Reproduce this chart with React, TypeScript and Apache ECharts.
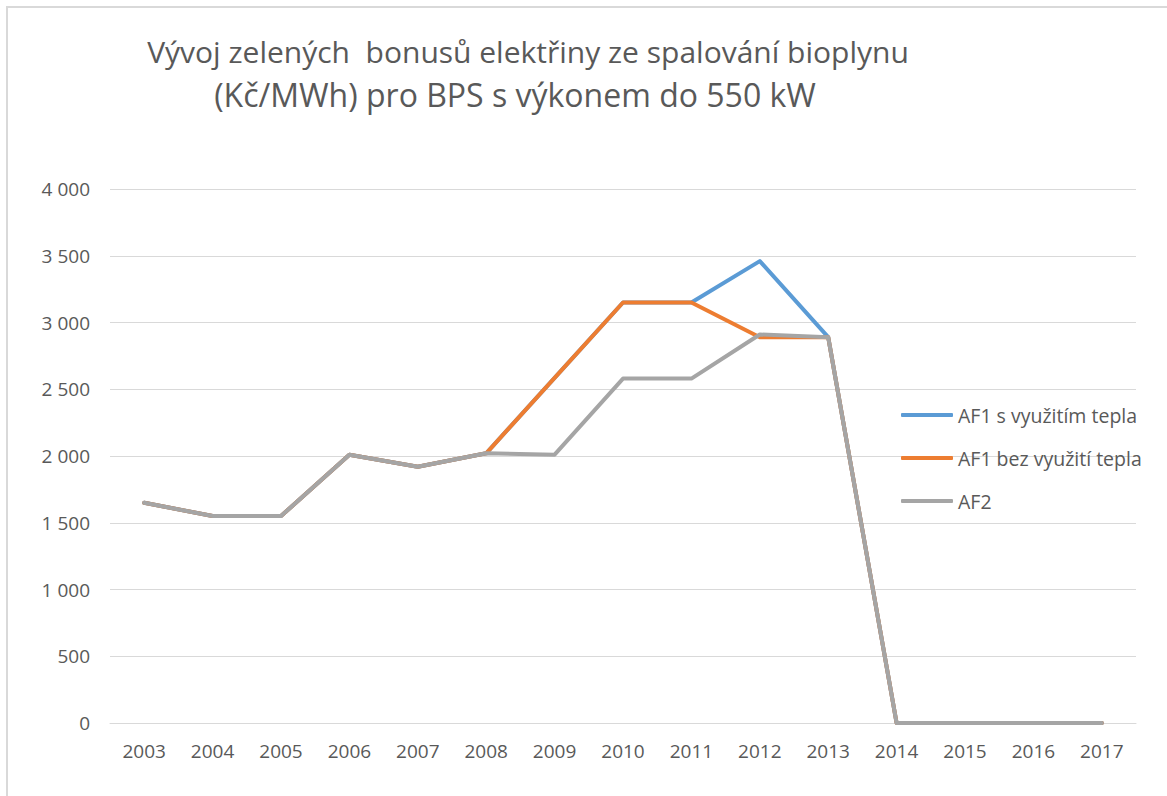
import React, { useEffect, useRef } from "react";
import * as echarts from "echarts";

const years = ["2003","2004","2005","2006","2007","2008","2009","2010","2011","2012","2013","2014","2015","2016","2017"];
const af1WithHeat = [1650,1550,1550,2010,1920,2020,2585,3150,3150,3460,2890,0,0,0,0];
const af1NoHeat = [1650,1550,1550,2010,1920,2020,2585,3150,3150,2890,2890,0,0,0,0];
const af2 = [1650,1550,1550,2010,1920,2020,2010,2580,2580,2910,2890,0,0,0,0];
const seriesNames = ["AF1 s využitím tepla","AF1 bez využití tepla","AF2"];
const titleLines = ["Vývoj zelených  bonusů elektřiny ze spalování bioplynu","(Kč/MWh) pro BPS s výkonem do 550 kW"];

const FONT = "'Open Sans', sans-serif";
const TXT = "#595959";

function fmt(v: number) {
  if (v >= 1000) return `${Math.floor(v / 1000)} ${String(v % 1000).padStart(3, "0")}`;
  return String(v);
}

export default function App() {
  const ref = useRef<HTMLDivElement>(null);
  useEffect(() => {
    const chart = echarts.init(ref.current!, undefined, { renderer: "svg" });
    const colors = ["#5B9BD5", "#ED7D31", "#A5A5A5"];
    const data = [af1WithHeat, af1NoHeat, af2];
    chart.setOption({
      animation: false,
      backgroundColor: "#ffffff",
      color: colors,
      textStyle: { fontFamily: FONT },
      graphic: [
        { type: "line", shape: { x1: 6, y1: 7, x2: 1167, y2: 7 }, style: { stroke: "#d9d9d9", lineWidth: 2 } },
        { type: "line", shape: { x1: 7, y1: 6, x2: 7, y2: 796 }, style: { stroke: "#d9d9d9", lineWidth: 2 } },
        { type: "text", x: 528, y: 51, style: { text: titleLines[0], font: `30px ${FONT}`, fill: TXT, textAlign: "center", textVerticalAlign: "middle" } },
        { type: "text", x: 515, y: 94, style: { text: titleLines[1], font: `32px ${FONT}`, fill: TXT, textAlign: "center", textVerticalAlign: "middle" } },
      ],
      grid: { left: 110, right: 31, top: 189, bottom: 73, containLabel: false },
      legend: {
        orient: "vertical",
        left: 896,
        top: 400,
        itemWidth: 52,
        itemHeight: 4,
        itemGap: 23,
        icon: "roundRect",
        textStyle: { color: TXT, fontSize: 19.5, fontFamily: FONT },
        data: seriesNames,
      },
      xAxis: {
        type: "category",
        data: years,
        boundaryGap: true,
        axisLine: { show: true, lineStyle: { color: "#d9d9d9", width: 1 } },
        axisTick: { show: false },
        axisLabel: { color: TXT, fontSize: 19, margin: 18, fontFamily: FONT },
      },
      yAxis: {
        type: "value",
        min: 0,
        max: 4000,
        interval: 500,
        axisLine: { show: false },
        axisTick: { show: false },
        splitLine: { lineStyle: { color: "#d9d9d9", width: 1 } },
        axisLabel: { color: TXT, fontSize: 19, margin: 20, formatter: (v: number) => fmt(v), fontFamily: FONT },
      },
      series: seriesNames.map((n, i) => ({
        name: n,
        type: "line",
        data: data[i],
        showSymbol: false,
        symbol: "none",
        lineStyle: { width: 4, color: colors[i], join: "round", cap: "round" },
      })),
    });
    return () => chart.dispose();
  }, []);
  return <div ref={ref} style={{ position: "fixed", left: 0, top: 0, width: 1167, height: 796 }} />;
}
